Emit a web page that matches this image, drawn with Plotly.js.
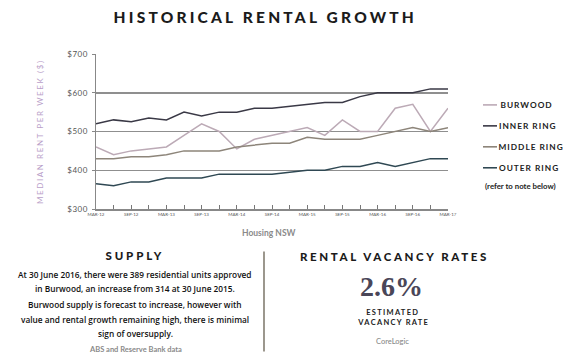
<!DOCTYPE html>
<html>
<head>
<meta charset="utf-8">
<script src="https://cdn.plot.ly/plotly-3.0.1.min.js"></script>
<style>
html,body{margin:0;padding:0;background:#fff;}
#chart{width:573px;height:362px;}
.annotation[data-index="0"] text{letter-spacing:3.2px;}
.annotation[data-index="1"] text{letter-spacing:1.6px;}
.annotation[data-index="3"] text{letter-spacing:1px;}
.annotation[data-index="4"] text{letter-spacing:1px;}
.annotation[data-index="5"] text{letter-spacing:1px;}
.annotation[data-index="6"] text{letter-spacing:1px;}
.annotation[data-index="8"] text{letter-spacing:2.8px;}
.annotation[data-index="16"] text{letter-spacing:2.6px;}
.annotation[data-index="18"] text{letter-spacing:1.3px;}
.annotation[data-index="19"] text{letter-spacing:1.3px;}
.ytick text{letter-spacing:0.5px;}
</style>
</head>
<body>
<div id="chart"></div>
<script>
// ---- data ----
const quarters = ["MAR-12","JUN-12","SEP-12","DEC-12","MAR-13","JUN-13","SEP-13","DEC-13",
  "MAR-14","JUN-14","SEP-14","DEC-14","MAR-15","JUN-15","SEP-15","DEC-15",
  "MAR-16","JUN-16","SEP-16","DEC-16","MAR-17"];
const tickLabels = ["MAR-12","","SEP-12","","MAR-13","","SEP-13","","MAR-14","","SEP-14","",
  "MAR-15","","SEP-15","","MAR-16","","SEP-16","","MAR-17"];
const burwood   = [460,440,450,455,460,490,520,500,455,480,490,500,510,490,530,500,500,560,570,500,560];
const innerRing = [520,530,525,535,530,550,540,550,550,560,560,565,570,575,575,590,600,600,600,610,610];
const middleRing= [430,430,435,435,440,450,450,450,460,465,470,470,485,480,480,480,490,500,510,500,510];
const outerRing = [365,360,370,370,380,380,380,390,390,390,390,395,400,400,410,410,420,410,420,430,430];
const seriesNames = ["BURWOOD","INNER RING","MIDDLE RING","OUTER RING"];
const yTickVals = [300,400,500,600,700];
const yTickText = ["$300","$400","$500","$600","$700"];

// ---- styles ----
const colors = ["#bcaab6","#3a3946","#8d857a","#2f4853"];
const L=96, R=448, T=54, B=209.3;
const W=R-L, H=B-T;
const px = x => (x-L)/W;
const py = y => (B-y)/H;

const allSeries=[burwood,innerRing,middleRing,outerRing];
const traces = allSeries.map((s,i)=>({
  x: quarters, y: s, type:'scatter', mode:'lines', name: seriesNames[i],
  line:{color:colors[i], width:1.5}, showlegend:false, hoverinfo:'skip'
}));

const sans = "Lato, 'Open Sans', sans-serif";
const ann = [];
function A(x,y,text,size,color,weight,extra){
  ann.push(Object.assign({xref:'paper',yref:'paper',x:px(x),y:py(y),text:text,showarrow:false,
    xanchor:'center',yanchor:'middle',font:{family:sans,size:size,color:color,weight:weight||400}},extra||{}));
}
// 0 title
A(265,17,"HISTORICAL RENTAL GROWTH",15.5,"#1b1b1b",900);
// 1 y title
A(40,132,"MEDIAN RENT PER WEEK ($)",8,"#b9a0c9",400,{textangle:-90});
// 2 source
A(269,233,"Housing NSW",8.5,"#8a8a8a",700);
// 3-6 legend labels
const legY=[105,126,147,168];
seriesNames.forEach((n,i)=>A(502,legY[i],n,8.3,"#222",700,{xanchor:'left'}));
// 7 note
A(483,186,"(refer to note below)",7.8,"#222",700,{xanchor:'left'});
// 8 SUPPLY
A(135,256,"SUPPLY",11.5,"#1b1b1b",900);
// 9-13 body
const bodyLines=["At 30 June 2016, there were 389 residential units approved",
 "in Burwood, an increase from 314 at 30 June 2015.",
 "Burwood supply is forecast to increase, however with",
 "value and rental growth remaining high, there is minimal",
 "sign of oversupply."];
const bodyY=[275,289,305,320,334];
bodyLines.forEach((t,i)=>A(135,bodyY[i],t,8.3,"#111",600,{font:{family:"'Open Sans', Lato, sans-serif",size:8.3,color:"#111",weight:600}}));
// 14 ABS
A(135,350,"ABS and Reserve Bank data",7.5,"#8a8a8a",700);
// 15 2.6%
A(391,287,"2.6%",28,"#4a4658",700,{font:{family:"'Liberation Serif', 'DejaVu Serif', serif",size:28,color:"#4a4658",weight:700}});
// 16 RENTAL VACANCY RATES
A(394,257,"RENTAL VACANCY RATES",11.5,"#1b1b1b",900);
// 17 CoreLogic
A(392,342,"CoreLogic",7.5,"#8a8a8a",500);
// 18-19 estimated
A(393,313,"ESTIMATED",7.5,"#222",700);
A(393,323,"VACANCY RATE",7.5,"#222",700);

const shapes=[];
legY.forEach((y,i)=>shapes.push({type:'line',xref:'paper',yref:'paper',x0:px(483),x1:px(497),y0:py(y),y1:py(y),
  line:{color:colors[i],width:1.6}}));
shapes.push({type:'line',xref:'paper',yref:'paper',x0:px(264),x1:px(264),y0:py(252),y1:py(352),
  line:{color:"#5a5242",width:1.2}});

const layout={
  width:573,height:362,
  margin:{l:L,r:573-R,t:T,b:362-B,pad:0},
  paper_bgcolor:'#fff',plot_bgcolor:'#fff',
  showlegend:false,
  xaxis:{type:'category',range:[0,20],tickmode:'array',tickvals:quarters,ticktext:tickLabels,
    ticks:'inside',ticklen:4,tickcolor:'#777',tickwidth:1,
    showline:true,linecolor:'#888',linewidth:1.5,showgrid:false,zeroline:false,
    tickfont:{family:sans,size:4.5,color:'#555'},tickangle:0,fixedrange:true},
  yaxis:{range:[300,700],tickvals:yTickVals,ticktext:yTickText,
    ticks:'outside',ticklen:3,tickcolor:'#888',
    showline:true,linecolor:'#888',linewidth:1.5,
    showgrid:true,gridcolor:'#8f8f8f',gridwidth:1.5,zeroline:false,
    tickfont:{family:sans,size:8,color:'#555'},ticklabelstandoff:2,fixedrange:true},
  annotations:ann,shapes:shapes
};
Plotly.newPlot('chart',traces,layout,{displayModeBar:false,staticPlot:true});
</script>
</body>
</html>
